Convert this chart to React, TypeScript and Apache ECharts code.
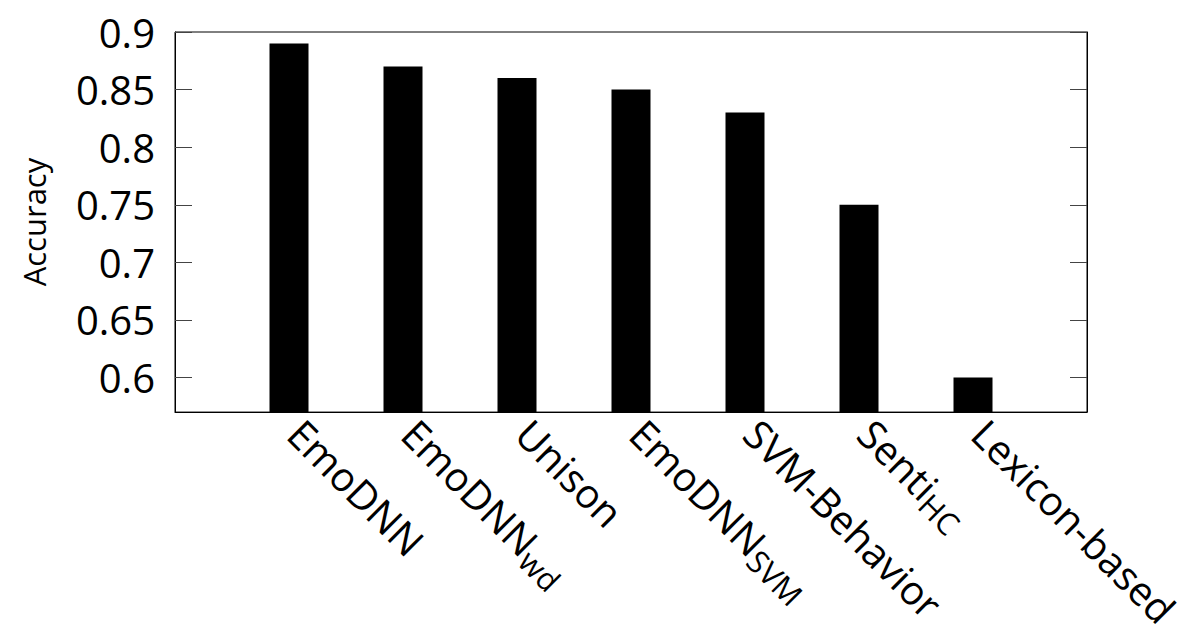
import React, { useEffect, useRef } from "react";
import * as echarts from "echarts";

const methodNames = ["EmoDNN", "EmoDNN", "Unison", "EmoDNN", "SVM-Behavior", "Senti", "Lexicon-based"];
const methodSubs = ["", "wd", "", "SVM", "", "HC", ""];
const accuracy = [0.89, 0.87, 0.86, 0.85, 0.83, 0.75, 0.6];
const yTicks = [0.6, 0.65, 0.7, 0.75, 0.8, 0.85, 0.9];

export default function App() {
  const ref = useRef<HTMLDivElement>(null);
  useEffect(() => {
    if (!ref.current) return;
    const chart = echarts.init(ref.current, null, { renderer: "svg" });
    const cats = ["", ...methodNames.map((_, i) => String(i)), ""];
    const data: any[] = ["-", ...accuracy, "-"];
    const font = "Open Sans";
    chart.setOption({
      animation: false,
      grid: {
        left: 175,
        top: 32,
        right: 109,
        bottom: 219,
        show: true,
        borderColor: "#000",
        borderWidth: 1,
        backgroundColor: "transparent",
      },
      xAxis: {
        type: "category",
        data: cats,
        boundaryGap: false,
        axisLine: { show: true, lineStyle: { color: "#000", width: 1 } },
        axisTick: { show: false },
        splitLine: { show: false },
        axisLabel: {
          interval: 0,
          rotate: -45,
          margin: 8,
          padding: [0, 0, 0, 9],
          color: "#000",
          fontFamily: font,
          fontSize: 40,
          formatter: (v: string) => {
            if (v === "") return "";
            const i = Number(v);
            const s = methodSubs[i];
            return s ? `{m|${methodNames[i]}}{s|${s}}` : `{m|${methodNames[i]}}`;
          },
          rich: {
            m: { fontFamily: font, fontSize: 40, color: "#000", lineHeight: 50 },
            s: { fontFamily: font, fontSize: 31, color: "#000", lineHeight: 38, verticalAlign: "bottom" },
          },
        },
      },
      yAxis: [
        {
          type: "value",
          min: 0.57,
          max: 0.9,
          name: "Accuracy",
          nameLocation: "middle",
          nameGap: 126,
          nameTextStyle: { fontFamily: font, fontSize: 31, color: "#000" },
          axisLine: { show: true, lineStyle: { color: "#000", width: 1 } },
          axisTick: {
            show: true,
            inside: true,
            length: 17,
            customValues: yTicks,
            lineStyle: { color: "#444", width: 1 },
          },
          splitLine: { show: false },
          axisLabel: {
            customValues: yTicks,
            formatter: (v: number) => String(v),
            color: "#000",
            fontFamily: font,
            fontSize: 40,
            margin: 20,
            padding: [0, 0, 16, 0],
          },
        },
        {
          type: "value",
          min: 0.57,
          max: 0.9,
          position: "right",
          axisLine: { show: true, lineStyle: { color: "#000", width: 1 } },
          axisTick: {
            show: true,
            inside: true,
            length: 17,
            customValues: yTicks,
            lineStyle: { color: "#444", width: 1 },
          },
          splitLine: { show: false },
          axisLabel: { show: false },
        },
      ],
      series: [
        {
          type: "bar",
          data,
          barWidth: 39,
          itemStyle: { color: "#000" },
        },
      ],
    });
    return () => chart.dispose();
  }, []);
  return (
    <div
      ref={ref}
      style={{ position: "fixed", left: 0, top: 0, width: 1196, height: 632, background: "#fff" }}
    />
  );
}
